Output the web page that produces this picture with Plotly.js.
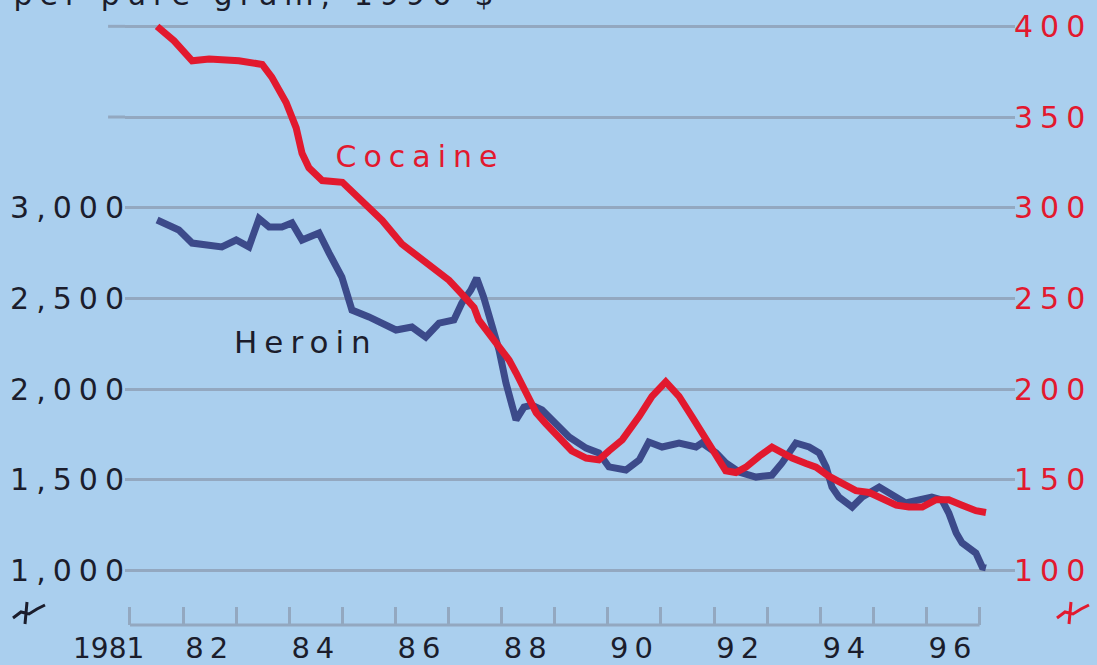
<!DOCTYPE html>
<html>
<head>
<meta charset="utf-8">
<script src="https://cdn.plot.ly/plotly-3.0.1.min.js"></script>
<style>
  html, body { margin: 0; padding: 0; background: #aacfee; }
  #chart { width: 1097px; height: 665px; }
  #chart text { letter-spacing: 7px; }
  #chart .xtick text { letter-spacing: 6px; }
  #chart g.annotation[data-index="2"] text { letter-spacing: 0px; }
</style>
</head>
<body>
<div id="chart"></div>
<script>
// ---- data ----
const cocaineYears = [1981.51,1981.83,1982.17,1982.49,1983.05,1983.49,1983.67,1983.94,1984.13,1984.24,1984.37,1984.62,1985.00,1985.37,1985.75,1986.12,1986.50,1986.69,1987.01,1987.23,1987.48,1987.57,1988.14,1988.27,1988.46,1988.65,1988.83,1989.08,1989.32,1989.59,1989.83,1990.02,1990.27,1990.59,1990.83,1991.09,1991.34,1991.58,1991.77,1992.04,1992.22,1992.41,1992.60,1992.85,1993.09,1993.28,1993.47,1993.73,1993.92,1994.16,1994.41,1994.67,1994.92,1995.16,1995.43,1995.67,1995.92,1996.18,1996.42,1996.67,1996.93,1997.12];
const cocaineValues = [400,392,381,382,381,379,372,358,344,330,322,315,314,304,293,280,271,267,260,253,245,238,216,209,198,187,181,174,166,162,161,166,172,185,196,204,196,185,176,165,155,154,157,163,168,165,162,159,157,152,148,144,143,140,136,135,135,139,139,136,133,132];

const heroinYears = [1981.51,1981.92,1982.17,1982.73,1983.00,1983.24,1983.43,1983.62,1983.86,1984.05,1984.24,1984.56,1984.75,1984.99,1985.18,1985.50,1986.01,1986.31,1986.57,1986.82,1987.10,1987.25,1987.42,1987.53,1987.66,1987.80,1987.95,1988.08,1988.19,1988.27,1988.42,1988.57,1988.76,1989.02,1989.27,1989.59,1989.83,1990.02,1990.34,1990.59,1990.77,1991.02,1991.34,1991.66,1991.77,1992.04,1992.22,1992.47,1992.79,1993.09,1993.28,1993.54,1993.79,1993.98,1994.11,1994.22,1994.35,1994.60,1994.79,1995.11,1995.35,1995.61,1995.86,1996.10,1996.29,1996.42,1996.56,1996.67,1996.93,1997.05,1997.12];
const heroinValues = [2932,2877,2805,2784,2822,2784,2940,2894,2894,2916,2822,2861,2750,2618,2436,2398,2326,2342,2287,2364,2381,2475,2546,2612,2508,2364,2216,2034,1901,1830,1901,1912,1885,1813,1736,1675,1648,1571,1554,1609,1708,1681,1703,1681,1703,1648,1593,1543,1515,1526,1593,1703,1681,1648,1571,1460,1405,1350,1405,1460,1416,1372,1389,1405,1389,1317,1207,1152,1096,1019,1014];

const yearTicks = [1981,1982,1983,1984,1985,1986,1987,1988,1989,1990,1991,1992,1993,1994,1995,1996,1997];
const xLabelVals = [1982.5,1984.5,1986.5,1988.5,1990.5,1992.5,1994.5,1996.5];
const xLabelText = ['82','84','86','88','90','92','94','96'];
const firstYearLabel = '1981';

const leftTickVals = [1000,1500,2000,2500,3000,3500,4000];
const leftTickText = ['1,000','1,500','2,000','2,500','3,000','',''];
const rightTickVals = [100,150,200,250,300,350,400];
const rightTickText = ['100','150','200','250','300','350','400'];

const titleText = 'per pure gram, 1996 $';

// ---- styling ----
const BG = '#aacfee';
const RED = '#e2192e';
const NAVY = '#3c4a8a';
const GRID = '#93a8c0';
const DARK = '#1b1d2c';
const FONT = 'DejaVu Sans';

const traces = [
  {x: cocaineYears, y: cocaineValues, yaxis: 'y2', type: 'scatter', mode: 'lines',
   line: {color: RED, width: 7, shape: 'linear'}, hoverinfo: 'skip', name: 'Cocaine'},
  {x: heroinYears, y: heroinValues, yaxis: 'y', type: 'scatter', mode: 'lines',
   line: {color: NAVY, width: 7, shape: 'linear'}, hoverinfo: 'skip', name: 'Heroin'}
];

function px2px(p) { return (p - 125) / 890; }
function py2py(p) { return (625 - p) / 615; }

function breakPath(cx, cy) {
  const pts = [[cx-20, cy+6],[cx-12, cy],[cx-4, cy+2],[cx+4, cy-3],[cx+12, cy-7]];
  let d = 'M ' + pts.map(p => px2px(p[0]) + ',' + py2py(p[1])).join(' L ');
  d += ' M ' + px2px(cx-6) + ',' + py2py(cy-10) + ' L ' + px2px(cx-8) + ',' + py2py(cy+12);
  return d;
}

const layout = {
  width: 1097, height: 665,
  margin: {l: 125, r: 82, t: 10, b: 40, pad: 0},
  paper_bgcolor: BG, plot_bgcolor: BG,
  showlegend: false,
  xaxis: {
    range: [1980.906, 1997.667],
    tickmode: 'array', tickvals: xLabelVals, ticktext: xLabelText,
    ticks: '', showgrid: false, zeroline: false, showline: false,
    ticklabelstandoff: 3,
    tickfont: {family: FONT, size: 29, color: DARK},
    minor: {tickmode: 'array', tickvals: yearTicks, ticks: 'inside', ticklen: 18,
            tickwidth: 3, tickcolor: GRID, showgrid: false}
  },
  yaxis: {
    range: [699.6, 4090], tickmode: 'array', tickvals: leftTickVals, ticktext: leftTickText,
    ticks: '', showgrid: true, gridcolor: GRID, gridwidth: 3, zeroline: false, showline: false,
    tickfont: {family: FONT, size: 30, color: DARK}, ticklabelstandoff: -7
  },
  yaxis2: {
    range: [69.96, 409.0], overlaying: 'y', side: 'right',
    tickmode: 'array', tickvals: rightTickVals, ticktext: rightTickText,
    ticks: '', showgrid: false, zeroline: false, showline: false,
    tickfont: {family: FONT, size: 30, color: RED}, ticklabelstandoff: -2
  },
  shapes: [
    {type: 'line', xref: 'x', yref: 'paper', x0: 1981, x1: 1997, y0: 0, y1: 0,
     line: {color: GRID, width: 3}},
    {type: 'line', xref: 'paper', yref: 'y', x0: -0.019, x1: 0, y0: 3500, y1: 3500,
     line: {color: GRID, width: 3}},
    {type: 'line', xref: 'paper', yref: 'y', x0: -0.019, x1: 0, y0: 4000, y1: 4000,
     line: {color: GRID, width: 3}},
    {type: 'path', xref: 'paper', yref: 'paper', path: breakPath(33, 612),
     line: {color: DARK, width: 3}},
    {type: 'path', xref: 'paper', yref: 'paper', path: breakPath(1077, 612),
     line: {color: RED, width: 3}}
  ],
  annotations: [
    {text: 'Cocaine', xref: 'x', yref: 'y', x: 1986.46, y: 3280, showarrow: false,
     font: {family: FONT, size: 30, color: RED}, xanchor: 'center', yanchor: 'middle'},
    {text: 'Heroin', xref: 'x', yref: 'y', x: 1984.31, y: 2260, showarrow: false,
     font: {family: FONT, size: 31, color: DARK}, xanchor: 'center', yanchor: 'middle'},
    {text: firstYearLabel, xref: 'paper', yref: 'paper', x: px2px(108), y: py2py(648),
     showarrow: false, font: {family: FONT, size: 28, color: DARK}, xanchor: 'center', yanchor: 'middle'},
    {text: titleText, xref: 'paper', yref: 'paper', x: px2px(257), y: 1, yshift: -4,
     showarrow: false, font: {family: FONT, size: 30, color: DARK}, xanchor: 'center', yanchor: 'bottom'}
  ]
};

Plotly.newPlot('chart', traces, layout, {staticPlot: true, displayModeBar: false});
</script>
</body>
</html>
